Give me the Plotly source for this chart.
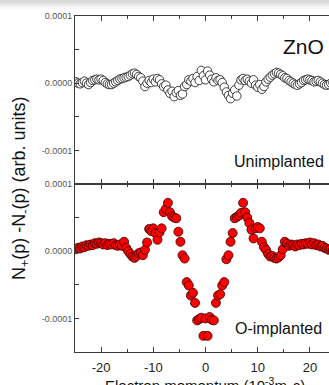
import plotly.graph_objects as go

# ---------------- data (y in units of 1e-4, arb. units) ----------------
x_momentum = [
    -24.8, -24.4, -24.0, -23.6, -23.2, -22.8, -22.4, -22.0, -21.6, -21.2,
    -20.8, -20.4, -20.0, -19.6, -19.2, -18.8, -18.4, -18.0, -17.6, -17.2,
    -16.8, -16.4, -16.0, -15.6, -15.2, -14.8, -14.4, -14.0, -13.6, -13.2,
    -12.8, -12.4, -12.0, -11.6, -11.2, -10.8, -10.4, -10.0, -9.6, -9.2,
    -8.8, -8.4, -8.0, -7.6, -7.2, -6.8, -6.4, -6.0, -5.6, -5.2,
    -4.8, -4.4, -4.0, -3.6, -3.2, -2.8, -2.4, -2.0, -1.6, -1.2,
    -0.8, -0.4, 0.0, 0.4, 0.8, 1.2, 1.6, 2.0, 2.4, 2.8,
    3.2, 3.6, 4.0, 4.4, 4.8, 5.2, 5.6, 6.0, 6.4, 6.8,
    7.2, 7.6, 8.0, 8.4, 8.8, 9.2, 9.6, 10.0, 10.4, 10.8,
    11.2, 11.6, 12.0, 12.4, 12.8, 13.2, 13.6, 14.0, 14.4, 14.8,
    15.2, 15.6, 16.0, 16.4, 16.8, 17.2, 17.6, 18.0, 18.4, 18.8,
    19.2, 19.6, 20.0, 20.4, 20.8, 21.2, 21.6, 22.0, 22.4, 22.8,
    23.2, 23.6, 24.0, 24.4, 24.8,
]

unimplanted = [
    0.02, 0.00, -0.01, 0.01, 0.03, 0.00, -0.02, 0.01, 0.04, 0.05,
    0.06, 0.05, 0.06, 0.04, 0.01, -0.01, -0.02, -0.02, 0.00, 0.02,
    0.04, 0.06, 0.07, 0.08, 0.09, 0.10, 0.12, 0.14, 0.15, 0.13,
    0.10, 0.08, 0.03, -0.05, 0.00, 0.04, 0.01, 0.06, 0.02, 0.07,
    0.05, -0.01, -0.05, -0.03, -0.10, -0.15, -0.12, -0.20, -0.14, -0.11,
    -0.18, -0.16, -0.05, -0.02, 0.05, 0.03, 0.07, 0.01, 0.10, 0.04,
    0.19, 0.11, 0.05, 0.18, 0.12, 0.06, 0.02, 0.08, 0.04, 0.05,
    0.01, -0.06, -0.13, -0.18, -0.23, -0.15, -0.10, -0.19, -0.03, 0.05,
    0.07, 0.04, 0.06, 0.03, 0.00, 0.05, -0.03, -0.06, -0.02, -0.09,
    -0.05, 0.02, 0.06, 0.09, 0.12, 0.14, 0.16, 0.15, 0.13, 0.11,
    0.08, 0.07, 0.04, 0.02, 0.00, -0.02, -0.03, -0.01, 0.01, 0.04,
    0.05, 0.06, 0.05, 0.04, 0.02, 0.03, 0.04, 0.02, 0.00, -0.02,
    -0.03, -0.02, 0.00, 0.01, 0.02,
]

o_implanted = [
    0.03, 0.05, 0.04, 0.07, 0.06, 0.09, 0.08, 0.10, 0.09, 0.12,
    0.11, 0.13, 0.12, 0.10, 0.12, 0.09, 0.11, 0.10, 0.12, 0.09,
    0.08, 0.10, 0.08, 0.14, 0.05, 0.00, -0.04, -0.08, -0.10, -0.07,
    -0.03, -0.02, -0.06, 0.02, 0.13, 0.33, 0.30, 0.34, 0.27, 0.17,
    0.28, 0.34, 0.58, 0.63, 0.72, 0.58, 0.52, 0.50, 0.49, 0.29,
    0.14, -0.06, -0.11, -0.46, -0.51, -0.66, -0.62, -0.77, -1.03, -1.01,
    -0.99, -1.26, -1.00, -1.26, -0.98, -1.02, -1.03, -0.77, -0.66, -0.64,
    -0.51, -0.46, -0.12, -0.06, 0.14, 0.27, 0.49, 0.51, 0.53, 0.57,
    0.72, 0.58, 0.50, 0.42, 0.32, 0.19, 0.34, 0.36, 0.34, 0.14,
    0.06, 0.02, -0.04, -0.08, -0.07, -0.10, -0.11, -0.09, -0.06, 0.03,
    0.14, 0.11, 0.08, 0.10, 0.09, 0.07, 0.10, 0.09, 0.11, 0.10,
    0.12, 0.11, 0.13, 0.10, 0.12, 0.09, 0.10, 0.07, 0.08, 0.05,
    0.04, 0.02, 0.03, 0.01, 0.02,
]

x_tick_vals = [-20, -10, 0, 10, 20]
x_tick_labels = ["-20", "-10", "0", "10", "20"]
y_tick_vals = [-1, 0, 1]
y_tick_labels = ["-0.0001", "0.0000", "0.0001"]

# ---------------- figure ----------------
W, H = 329, 385
ML, MR, MT, MB = 75, 0, 16, 33
PW = W - ML - MR
PH = H - MT - MB

AX = "#3a3a3a"
FNT = "Liberation Sans, Arial"

fig = go.Figure()
fig.add_trace(go.Scatter(
    x=x_momentum, y=unimplanted, mode="markers", xaxis="x2", yaxis="y2",
    marker=dict(size=8.5, color="white", line=dict(color="#111111", width=0.8)),
    showlegend=False,
))
fig.add_trace(go.Scatter(
    x=x_momentum, y=o_implanted, mode="markers", xaxis="x", yaxis="y",
    marker=dict(size=9, color="#ff0000", line=dict(color="#3a0000", width=0.8)),
    showlegend=False,
))

xcommon = dict(
    range=[-25, -25 + PW / 5.22], showline=True, linecolor=AX, linewidth=1,
    ticks="inside", ticklen=5, tickcolor=AX, tickwidth=1,
    tickvals=x_tick_vals, ticktext=x_tick_labels,
    minor=dict(ticks="inside", tickvals=[-15, -5, 5, 15], ticklen=3, tickcolor=AX),
    mirror="ticks", showgrid=False, zeroline=False,
)
ycommon = dict(
    range=[-1.5, 1.0], showline=True, linecolor=AX, linewidth=1,
    ticks="inside", ticklen=4, tickcolor=AX, tickwidth=1,
    tickvals=y_tick_vals, ticktext=y_tick_labels,
    minor=dict(ticks="inside", tickvals=[-0.5, 0.5], ticklen=4, tickcolor=AX),
    showgrid=False, zeroline=False,
    tickfont=dict(family=FNT, size=9, color="#555555"),
)

fig.update_layout(
    width=W, height=H,
    margin=dict(l=ML, r=MR, t=MT, b=MB, pad=0),
    paper_bgcolor="white", plot_bgcolor="white",
    xaxis=dict(**xcommon, anchor="y",
               tickfont=dict(family=FNT, size=13, color="#222222"),
               ticklabelstandoff=3),
    xaxis2=dict(**xcommon, anchor="y2", matches="x", showticklabels=False),
    yaxis=dict(**ycommon, domain=[0, 0.5], anchor="x"),
    yaxis2=dict(**ycommon, domain=[0.5, 1], anchor="x2"),
)

def px_to_paper_x(px):
    return (px - ML) / PW

def px_to_paper_y(py):
    return 1 - (py - MT) / PH

annots = [
    dict(text="ZnO", x=px_to_paper_x(326), y=px_to_paper_y(46), xanchor="right",
         yanchor="middle", font=dict(family=FNT, size=21, color="#111111")),
    dict(text="Unimplanted", x=px_to_paper_x(326), y=px_to_paper_y(161), xanchor="right",
         yanchor="middle", font=dict(family=FNT, size=16, color="#111111")),
    dict(text="O-implanted", x=px_to_paper_x(324), y=px_to_paper_y(328), xanchor="right",
         yanchor="middle", font=dict(family=FNT, size=16, color="#111111")),
    dict(text="N<sub>+</sub>(p) -N<sub>-</sub>(p) (arb. units)", textangle=-90,
         x=px_to_paper_x(20), y=px_to_paper_y(188), xanchor="center", yanchor="middle",
         font=dict(family=FNT, size=18, color="#111111")),
    dict(text="Electron momentum (10<sup>-3</sup>m<sub>0</sub>c)",
         x=px_to_paper_x(205), y=px_to_paper_y(373), xanchor="center", yanchor="top",
         font=dict(family=FNT, size=15, color="#111111")),
]
for a in annots:
    fig.add_annotation(xref="paper", yref="paper", showarrow=False, **a)

# light grey strip at the very top of the image
for (p0, p1, col) in [(0, 3, "#d9d9d9"), (3, 5, "#e6e6e6"), (5, 7, "#f1f1f1"), (7, 9, "#f9f9f9")]:
    fig.add_shape(type="rect", xref="paper", yref="paper",
                  x0=px_to_paper_x(0), x1=px_to_paper_x(W),
                  y0=px_to_paper_y(p1), y1=px_to_paper_y(p0),
                  fillcolor=col, line=dict(width=0), layer="below")

fig.write_html("out.html")
